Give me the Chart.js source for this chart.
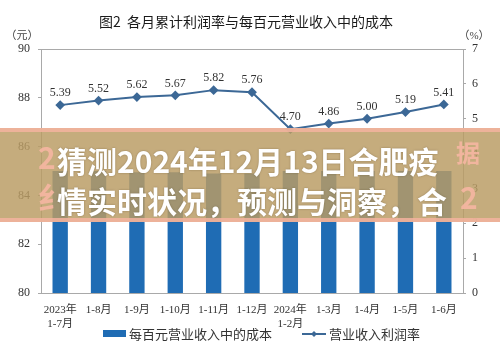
<!DOCTYPE html>
<html>
<head>
<meta charset="utf-8">
<script src="https://cdn.jsdelivr.net/npm/chart.js@4/dist/chart.umd.min.js"></script>
<style>
    html, body { margin: 0; padding: 0; background: #fff; }
    #wrap { position: relative; width: 500px; height: 354px; overflow: hidden; }
    #band {
        position: absolute; left: 0; top: 128px; width: 500px; height: 86px;
        background: rgba(186, 156, 100, 0.84);
        border-top: 4px solid rgba(244, 180, 160, 0.85);
        border-bottom: 4px solid rgba(244, 180, 160, 0.85);
    }
    .ghost {
        position: absolute; font-family: "Noto Sans CJK SC", sans-serif; font-weight: 700;
        font-size: 30px; color: rgba(246, 182, 162, 0.9); white-space: nowrap;
    }
    #headline {
        position: absolute; left: 57px; top: 140px; width: 400px;
        font-family: "Noto Sans CJK SC", sans-serif; font-weight: 700; font-size: 30px;
        line-height: 40px; color: #fff; white-space: nowrap;
        text-shadow: 0 0 2px rgba(90, 70, 40, 0.5);
    }
</style>
</head>
<body>
<div id="wrap">
    <canvas id="chart" width="500" height="354"></canvas>
    <div id="band">
        <div class="ghost" style="left:38px; top:2px;">2</div>
        <div class="ghost" style="left:456px; top:2px; font-size:24px;">据</div>
        <div class="ghost" style="left:38px; top:42px;">纟</div>
        <div class="ghost" style="left:460px; top:42px;">2</div>
    </div>
    <div id="headline">猜测2024年12月13日合肥疫<br>情实时状况，预测与洞察，合</div>
</div>
<script>
    // ---- data ----
    const categories = [["2023年", "1-7月"], "1-8月", "1-9月", "1-10月", "1-11月", "1-12月",
        ["2024年", "1-2月"], "1-3月", "1-4月", "1-5月", "1-6月"];
    const costPer100 = [85.0, 85.0, 84.95, 84.95, 84.9, 84.9, 85.0, 85.0, 85.0, 85.0, 85.0];
    const profitRate = [5.39, 5.52, 5.62, 5.67, 5.82, 5.76, 4.70, 4.86, 5.00, 5.19, 5.41];
    const leftTicks = [80, 82, 84, 86, 88, 90];
    const rightTicks = [0, 1, 2, 3, 4, 5, 6, 7];

    const serif = "'Liberation Serif', 'Noto Sans CJK SC', serif";
    const barColor = "#1f6cb4";
    const lineColor = "#3c6896";

    // frame, axis units, point labels, legend and title
    const decorations = {
        id: "decorations",
        afterDraw(chart) {
            const { ctx, chartArea: a } = chart;
            ctx.save();
            ctx.strokeStyle = "#a9a9a9";
            ctx.lineWidth = 1;
            ctx.strokeRect(a.left + 0.5, a.top + 0.5, a.right - a.left, a.bottom - a.top);

            ctx.fillStyle = "#1a1a1a";
            ctx.font = "14px 'Noto Sans CJK SC', sans-serif";
            ctx.textAlign = "center";
            ctx.textBaseline = "middle";
            ctx.fillText("图2  各月累计利润率与每百元营业收入中的成本", 246, 22);

            ctx.fillStyle = "#444";
            ctx.font = "11px " + serif;
            ctx.fillText("（元）", 22, 36);
            ctx.fillText("（%）", 474, 36);

            // labels over the profit points
            const meta = chart.getDatasetMeta(1);
            ctx.fillStyle = "#333";
            ctx.font = "12px " + serif;
            ctx.textBaseline = "bottom";
            meta.data.forEach((pt, i) => {
                ctx.fillText(profitRate[i].toFixed(2), pt.x, pt.y - 6);
            });

            // legend
            ctx.textAlign = "left";
            ctx.textBaseline = "middle";
            ctx.font = "13px 'Noto Sans CJK SC', sans-serif";
            ctx.fillStyle = barColor;
            ctx.fillRect(103, 330, 23, 7);
            ctx.fillStyle = "#333";
            ctx.fillText("每百元营业收入中的成本", 129, 334);

            ctx.strokeStyle = lineColor;
            ctx.lineWidth = 2;
            ctx.beginPath();
            ctx.moveTo(302, 334);
            ctx.lineTo(326, 334);
            ctx.stroke();
            ctx.fillStyle = lineColor;
            ctx.beginPath();
            ctx.moveTo(314, 331); ctx.lineTo(317, 334); ctx.lineTo(314, 337); ctx.lineTo(311, 334);
            ctx.closePath();
            ctx.fill();
            ctx.fillStyle = "#333";
            ctx.fillText("营业收入利润率", 329, 334);
            ctx.restore();
        }
    };

    new Chart(document.getElementById("chart"), {
        data: {
            labels: categories,
            datasets: [{
                type: "bar",
                label: "每百元营业收入中的成本",
                data: costPer100,
                backgroundColor: barColor,
                barPercentage: 0.4,
                categoryPercentage: 1,
                yAxisID: "y",
                order: 2
            }, {
                type: "line",
                label: "营业收入利润率",
                data: profitRate,
                borderColor: lineColor,
                backgroundColor: lineColor,
                borderWidth: 2,
                pointStyle: "rectRot",
                pointRadius: 3.5,
                tension: 0,
                yAxisID: "y1",
                order: 1
            }]
        },
        options: {
            responsive: false,
            animation: false,
            layout: { padding: { top: 49, left: 0, right: 0, bottom: 0 } },
            plugins: { legend: { display: false }, tooltip: { enabled: false } },
            scales: {
                x: {
                    grid: { display: false },
                    border: { color: "#a9a9a9" },
                    ticks: { color: "#333", font: { size: 11, family: serif }, maxRotation: 0, autoSkip: false, padding: 3 },
                    afterFit: s => { s.height = 61; }
                },
                y: {
                    position: "left",
                    min: 80, max: 90,
                    afterBuildTicks: s => { s.ticks = leftTicks.map(v => ({ value: v })); },
                    grid: { drawOnChartArea: false, tickLength: 3, color: "#a9a9a9" },
                    border: { color: "#a9a9a9" },
                    ticks: { color: "#333", font: { size: 12, family: serif }, padding: 8 },
                    afterFit: s => { s.width = 41; }
                },
                y1: {
                    position: "right",
                    min: 0, max: 7,
                    afterBuildTicks: s => { s.ticks = rightTicks.map(v => ({ value: v })); },
                    grid: { drawOnChartArea: false, tickLength: 3, color: "#a9a9a9" },
                    border: { color: "#a9a9a9" },
                    ticks: { color: "#333", font: { size: 12, family: serif }, padding: 6 },
                    afterFit: s => { s.width = 37; }
                }
            }
        },
        plugins: [decorations]
    });
</script>
</body>
</html>
